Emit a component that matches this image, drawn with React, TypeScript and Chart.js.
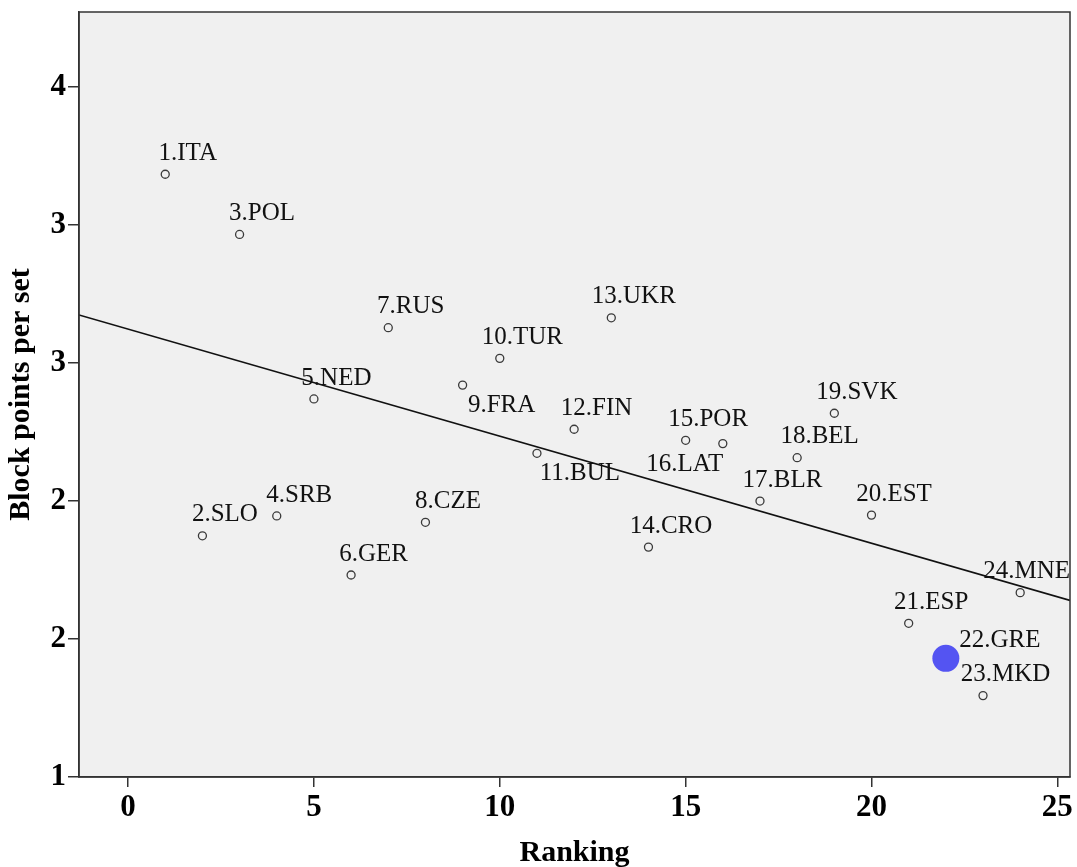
import { useEffect, useRef } from 'react';
import { Chart, registerables } from 'chart.js';

Chart.register(...registerables);

// ---- data ----
const teams = [
  '1.ITA', '2.SLO', '3.POL', '4.SRB', '5.NED', '6.GER', '7.RUS', '8.CZE',
  '9.FRA', '10.TUR', '11.BUL', '12.FIN', '13.UKR', '14.CRO', '15.POR', '16.LAT',
  '17.BLR', '18.BEL', '19.SVK', '20.EST', '21.ESP', '22.GRE', '23.MKD', '24.MNE',
];
const ranking = [
  1, 2, 3, 4, 5, 6, 7, 8, 9, 10, 11, 12,
  13, 14, 15, 16, 17, 18, 19, 20, 21, 22, 23, 24,
];
const blockPointsPerSet = [
  3.184, 1.874, 2.966, 1.946, 2.370, 1.732, 2.628, 1.923,
  2.420, 2.517, 2.173, 2.260, 2.664, 1.833, 2.220, 2.208,
  2.000, 2.157, 2.318, 1.949, 1.557, 1.430, 1.295, 1.668,
];
const highlightedTeams = ['22.GRE'];

// fitted line
const fitIntercept = 2.623;
const fitSlope = -0.0388;

const xTickValues = [0, 5, 10, 15, 20, 25];
const yTickValues = [1, 1.5, 2, 2.5, 3, 3.5];
const xLimits = [-1.32, 25.34];
const yLimits = [1, 3.772];

const xTitle = 'Ranking';
const yTitle = 'Block points per set';

// ---- styling ----
const SERIF = '"Liberation Serif", "Times New Roman", serif';
const PLOT_BG = '#f0f0f0';
const FRAME = '#333333';
const HIGHLIGHT = 'rgb(84, 84, 242)';
// label placement (style): default centred right of the point, above it
const defaultLabelShift = [22.5, -14.3];
const labelShift: Record<string, number[]> = {
  '9.FRA': [39, 27.3],
  '11.BUL': [43, 26.7],
  '16.LAT': [-38, 27.3],
  '22.GRE': [54, -11.6],
};

const plotDecor = {
  id: 'plotDecor',
  beforeDraw(chart: any) {
    const { ctx, chartArea } = chart;
    ctx.save();
    ctx.fillStyle = PLOT_BG;
    ctx.fillRect(chartArea.left, chartArea.top, chartArea.right - chartArea.left, chartArea.bottom - chartArea.top);
    ctx.restore();
  },
  afterDraw(chart: any) {
    const { ctx, chartArea } = chart;
    ctx.save();
    ctx.strokeStyle = FRAME;
    ctx.lineWidth = 1.5;
    ctx.strokeRect(chartArea.left, chartArea.top, chartArea.right - chartArea.left, chartArea.bottom - chartArea.top);
    ctx.restore();
  },
};

const pointLabels = {
  id: 'pointLabels',
  afterDatasetsDraw(chart: any) {
    const { ctx, chartArea } = chart;
    const meta = chart.getDatasetMeta(1);
    ctx.save();
    ctx.font = `25px ${SERIF}`;
    ctx.fillStyle = '#111111';
    ctx.textAlign = 'left';
    ctx.textBaseline = 'alphabetic';
    meta.data.forEach((el: any, i: number) => {
      const name = teams[i];
      const [dx, dy] = labelShift[name] || defaultLabelShift;
      const w = ctx.measureText(name).width;
      let left = el.x + dx - w / 2;
      if (left + w > chartArea.right) left = chartArea.right - w;
      ctx.fillText(name, left, el.y + dy);
    });
    ctx.restore();
  },
};

export default function App() {
  const canvasRef = useRef<HTMLCanvasElement | null>(null);

  useEffect(() => {
    if (!canvasRef.current) return;
    const points = ranking.map((r, i) => ({ x: r, y: blockPointsPerSet[i] }));
    const fitLine = xLimits.map((x) => ({ x, y: fitIntercept + fitSlope * x }));
    const isHi = (i: number) => highlightedTeams.includes(teams[i]);

    const chart = new Chart(canvasRef.current, {
      type: 'scatter',
      data: {
        datasets: [
          {
            type: 'line',
            data: fitLine,
            borderColor: '#111111',
            borderWidth: 1.6,
            pointRadius: 0,
            fill: false,
            order: 2,
          } as any,
          {
            data: points,
            pointRadius: (c: any) => (isHi(c.dataIndex) ? 13.5 : 4),
            pointBackgroundColor: (c: any) => (isHi(c.dataIndex) ? HIGHLIGHT : 'rgba(0,0,0,0)'),
            pointBorderColor: (c: any) => (isHi(c.dataIndex) ? HIGHLIGHT : '#3a3a3a'),
            pointBorderWidth: (c: any) => (isHi(c.dataIndex) ? 0 : 1.3),
            order: 1,
          } as any,
        ],
      },
      options: {
        animation: false,
        responsive: false,
        devicePixelRatio: 1,
        layout: { autoPadding: false, padding: { top: 12, right: 7, left: 0, bottom: 0 } },
        plugins: { legend: { display: false }, tooltip: { enabled: false } },
        scales: {
          x: {
            type: 'linear',
            min: xLimits[0],
            max: xLimits[1],
            afterBuildTicks: (s: any) => { s.ticks = xTickValues.map((v) => ({ value: v })); },
            afterFit: (s: any) => { s.height = 90; s.paddingLeft = 0; s.paddingRight = 0; },
            ticks: {
              color: '#000',
              font: { family: SERIF, size: 31, weight: 'bold', lineHeight: 1.2 },
              padding: 2,
              maxRotation: 0,
              callback: (v: any) => String(v),
            },
            grid: { drawOnChartArea: false, drawTicks: true, tickLength: 10, color: FRAME, lineWidth: 1.5 },
            border: { display: true, color: FRAME, width: 1.5 },
            title: {
              display: true,
              text: xTitle,
              color: '#000',
              font: { family: SERIF, size: 30, weight: 'bold', lineHeight: 1 },
              padding: { top: 0, bottom: -1 },
            },
          },
          y: {
            type: 'linear',
            min: yLimits[0],
            max: yLimits[1],
            afterBuildTicks: (s: any) => { s.ticks = yTickValues.map((v) => ({ value: v })); },
            afterFit: (s: any) => { s.width = 79; s.paddingTop = 0; s.paddingBottom = 0; },
            ticks: {
              color: '#000',
              font: { family: SERIF, size: 31, weight: 'bold' },
              padding: 2,
              callback: (v: any) => String(Math.round(Number(v))),
            },
            grid: { drawOnChartArea: false, drawTicks: true, tickLength: 11, color: FRAME, lineWidth: 1.5 },
            border: { display: true, color: FRAME, width: 1.5 },
            title: {
              display: true,
              text: yTitle,
              color: '#000',
              font: { family: SERIF, size: 30, weight: 'bold', lineHeight: 1 },
              padding: { top: 6, bottom: 0 },
            },
          },
        },
      },
      plugins: [plotDecor, pointLabels],
    });
    return () => chart.destroy();
  }, []);

  return (
    <div style={{ position: 'absolute', left: 0, top: 0, width: 1077, height: 867, background: '#fff' }}>
      <canvas ref={canvasRef} width={1077} height={867} style={{ display: 'block' }} />
    </div>
  );
}
